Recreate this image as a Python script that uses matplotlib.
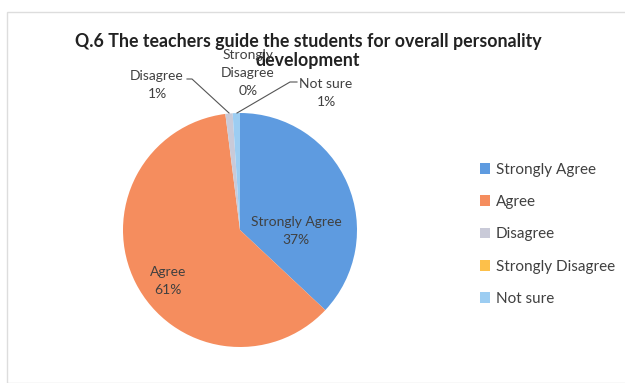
import matplotlib
matplotlib.use("Agg")
import matplotlib.pyplot as plt
from matplotlib.patches import Rectangle, Patch

categories = ["Strongly Agree", "Agree", "Disagree", "Strongly Disagree", "Not sure"]
values = [37, 61, 1, 0, 1]
colors = ["#5E9BE0", "#F58D5E", "#C9CAD8", "#FDC04A", "#9CCDF2"]

W, H = 625, 383
fig = plt.figure(figsize=(W / 100, H / 100), dpi=100)
ax = fig.add_axes([0, 0, 1, 1])
FONT = "Lato"

def Y(y):
    return H - y

ax.pie(values, colors=colors, startangle=90, counterclock=False,
       center=(240, Y(230)), radius=117,
       wedgeprops=dict(linewidth=0))
ax.set_xlim(0, W)
ax.set_ylim(0, H)
ax.set_aspect("equal")
ax.axis("off")

# frame
ax.add_patch(Rectangle((7, Y(383)), 640, 371, fill=False, edgecolor="#DDDDDD", lw=1))

ax.text(308, Y(51), "Q.6 The teachers guide the students for overall personality\ndevelopment",
        ha="center", va="center", fontsize=12.8, fontweight="bold", family=FONT,
        color="#222222", linespacing=1.2)

pct = {c: f"{v}%" for c, v in zip(categories, values)}
lc = "#404040"
ax.text(296, Y(231), f"Strongly Agree\n{pct['Strongly Agree']}", ha="center", va="center",
        fontsize=10, family=FONT, color=lc, linespacing=1.5)
ax.text(168, Y(281), f"Agree\n{pct['Agree']}", ha="center", va="center",
        fontsize=10, family=FONT, color=lc, linespacing=1.6)
ax.text(157, Y(85), f"Disagree\n{pct['Disagree']}", ha="center", va="center",
        fontsize=10, family=FONT, color=lc, linespacing=1.6)
ax.text(248, Y(73), f"Strongly\nDisagree\n{pct['Strongly Disagree']}", ha="center", va="center",
        fontsize=10, family=FONT, color=lc, linespacing=1.6)
ax.text(326, Y(93), f"Not sure\n{pct['Not sure']}", ha="center", va="center",
        fontsize=10, family=FONT, color=lc, linespacing=1.6)

# leader lines
ax.plot([187, 192, 229], [Y(79), Y(79), Y(113)], color="#555555", lw=0.8)
ax.plot([297, 290, 237], [Y(82), Y(82), Y(113)], color="#555555", lw=0.8)

handles = [Patch(facecolor=c, edgecolor="none") for c in colors]
leg = ax.legend(handles, categories, loc="upper left",
                bbox_to_anchor=(466 / W, 1 - 149 / H), frameon=False,
                prop=dict(family=FONT, size=11), labelspacing=1.2,
                handlelength=0.7, handleheight=0.7, handletextpad=0.35)
for t in leg.get_texts():
    t.set_color("#404040")

fig.savefig("out.png", dpi=100, facecolor="white")
